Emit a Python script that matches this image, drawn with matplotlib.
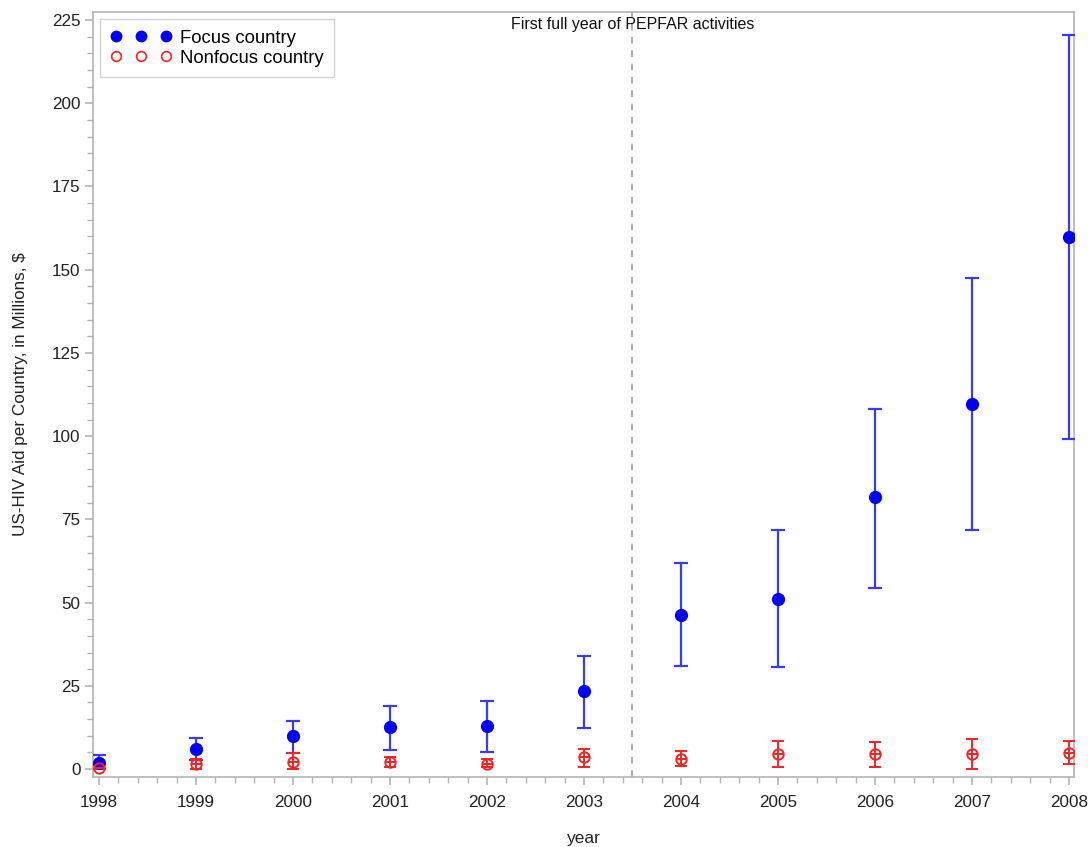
import numpy as np
import matplotlib
matplotlib.use("Agg")
import matplotlib.pyplot as plt
from matplotlib.lines import Line2D
from matplotlib.ticker import MultipleLocator

plt.rcParams["font.family"] = ["Liberation Sans", "DejaVu Sans"]

years = [1998, 1999, 2000, 2001, 2002, 2003, 2004, 2005, 2006, 2007, 2008]

# focus countries: mean aid with lower / upper interval
focus_mean = [1.9, 6.0, 9.8, 12.5, 12.8, 23.4, 46.4, 51.1, 81.6, 109.7, 159.9]
focus_lo = [0.0, 2.8, 4.9, 5.6, 5.2, 12.4, 30.9, 30.7, 54.5, 71.8, 99.0]
focus_hi = [4.3, 9.4, 14.4, 18.8, 20.4, 33.9, 62.0, 71.8, 108.3, 147.6, 220.6]

# nonfocus countries
nonfocus_mean = [0.3, 1.4, 2.2, 2.2, 1.5, 3.5, 3.0, 4.4, 4.4, 4.4, 4.7]
nonfocus_lo = [0.0, 0.1, 0.0, 0.5, 0.5, 0.5, 0.8, 0.5, 0.5, 0.1, 1.4]
nonfocus_hi = [1.5, 2.9, 4.9, 3.7, 2.9, 5.9, 5.5, 8.5, 8.0, 9.0, 8.5]

pepfar_start = 2003.5

fig = plt.figure(figsize=(10.91, 8.47), dpi=100)
ax = fig.add_axes([0.0852, 0.0826, 0.8992, 0.9032])

x = np.array(years)
fm = np.array(focus_mean)
nm = np.array(nonfocus_mean)

ax.errorbar(x, fm, yerr=[fm - np.array(focus_lo), np.array(focus_hi) - fm],
            fmt="none", ecolor="#3a3aff", elinewidth=1.6, capsize=5,
            capthick=1.6, zorder=3)
ax.plot(x, fm, "o", color="#0000ff", markersize=8.5, zorder=4)

ax.errorbar(x, nm, yerr=[nm - np.array(nonfocus_lo), np.array(nonfocus_hi) - nm],
            fmt="none", ecolor="#ff2020", elinewidth=1.4, capsize=4.5,
            capthick=1.4, zorder=3)
ax.plot(x, nm, "o", mfc="none", mec="#ff2020", mew=1.4, markersize=7.5,
        zorder=4)
ax.plot(x, nm, "_", color="#ff2020", mew=1.4, markersize=7, zorder=4)

ax.axvline(pepfar_start, color="#a0a0a0", linestyle=(0, (4, 4)),
           linewidth=1.2, zorder=1)
ax.text(pepfar_start, 223.6, "First full year of PEPFAR activities",
        ha="center", va="center", fontsize=11.5, color="#111111")

ax.set_xlim(1997.938, 2008.052)
ax.set_ylim(-2.4, 227.4)
ax.xaxis.set_major_locator(MultipleLocator(1))
ax.xaxis.set_minor_locator(MultipleLocator(0.2))
ax.yaxis.set_major_locator(MultipleLocator(25))
ax.yaxis.set_minor_locator(MultipleLocator(5))

for s in ax.spines.values():
    s.set_color("#b4b4b4")
    s.set_linewidth(1.2)
ax.tick_params(which="both", direction="out", color="#b4b4b4",
               labelcolor="#222222")
ax.tick_params(which="major", length=6, width=1.2, labelsize=12.3)
ax.tick_params(which="minor", length=4, width=1.0)
ax.tick_params(axis="x", pad=7)
ax.tick_params(axis="y", pad=3)

ax.set_xlabel("year", fontsize=12.5, color="#222222", va="top")
ax.xaxis.set_label_coords(0.5, -0.0705)
ax.set_ylabel("US-HIV Aid per Country, in Millions, $", fontsize=12.3,
              color="#222222")
ax.yaxis.set_label_coords(-0.066, 0.5)

handles = [
    Line2D([], [], linestyle="none", marker="o", color="#0000ff",
           markersize=7.5),
    Line2D([], [], linestyle="none", marker="o", mfc="none", mec="#ff2020",
           mew=1.2, markersize=7),
]
leg = ax.legend(handles, ["Focus country", "Nonfocus country"],
                loc="upper left", numpoints=3, handlelength=3.3,
                handletextpad=0.45, fontsize=13.3, fancybox=False,
                borderaxespad=0.4, labelspacing=0.18, borderpad=0.55)
leg.get_frame().set_edgecolor("#c8c8c8")
leg.get_frame().set_linewidth(1.0)

fig.savefig("out.png", dpi=100)
